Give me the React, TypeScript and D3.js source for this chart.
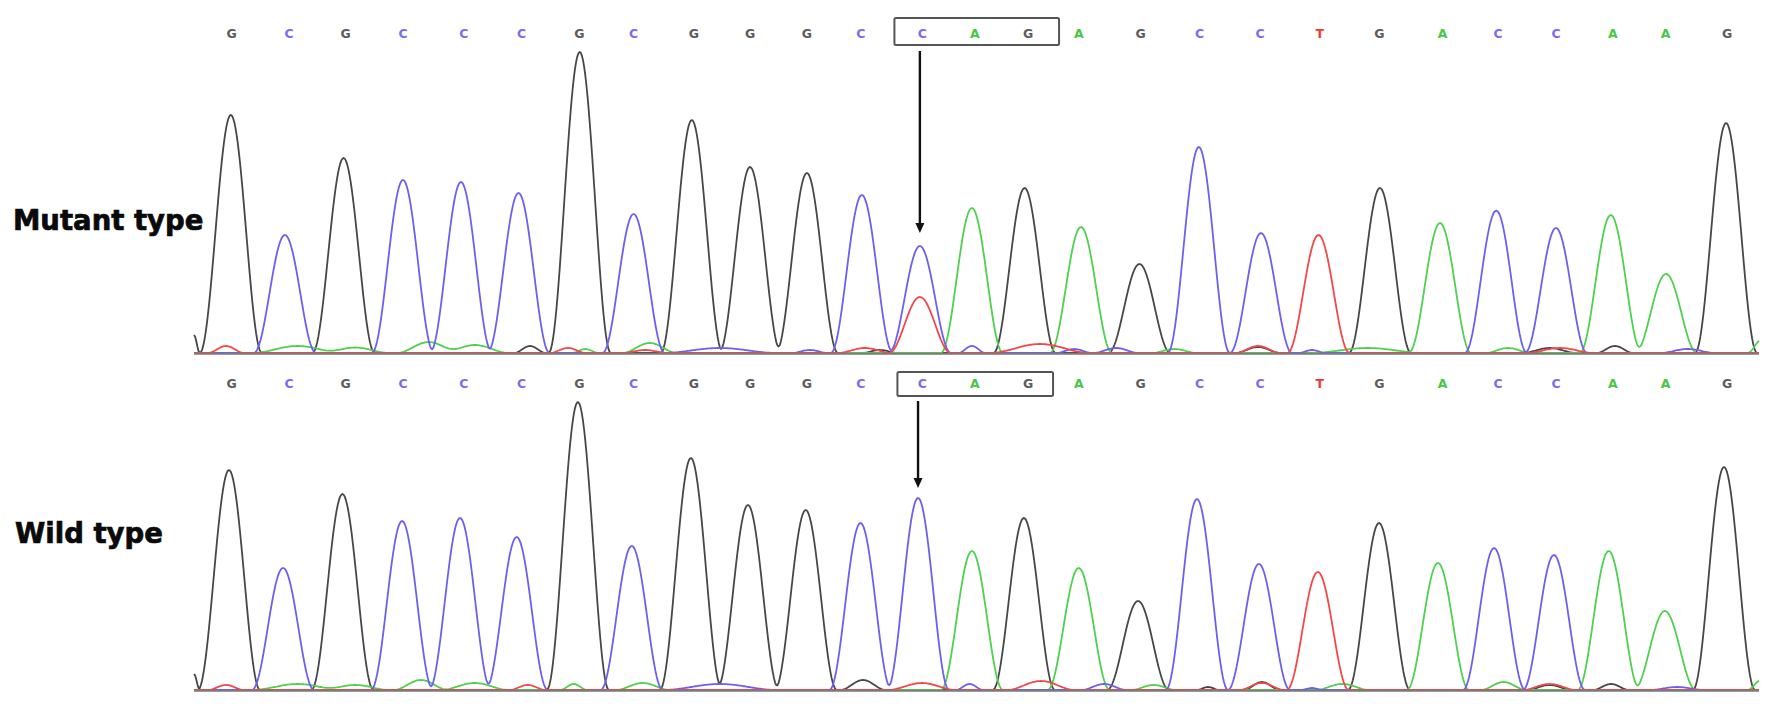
import React from "react";
import * as d3 from "d3";

// ---------- data ----------
const BASES = ["G","C","G","C","C","C","G","C","G","G","G","C","C","A","G","A","G","C","C","T","G","A","C","C","A","A","G"];

// base-call positions (scan units)
const CALL_SCANS = [16.3,41.3,65.9,90.8,117.3,142.3,167.5,191.0,217.2,241.6,266.3,289.8,316.5,339.3,362.4,384.5,411.3,436.9,463.2,489.2,515.1,542.5,566.6,591.8,616.5,639.4,666.1];

// mutant trace: peak centres (scan) and heights (RFU)
const MUTANT_PEAK_SCANS = [16.0,39.5,65.0,90.8,116.0,141.0,167.6,191.0,216.3,241.6,266.3,290.2,315.4,338.0,360.9,385.4,410.8,436.6,463.6,488.6,515.3,541.4,565.7,591.8,615.6,639.6,665.7];
const MUTANT_HEIGHTS = [2380,1180,1950,1730,1710,1600,3010,1390,2330,1860,1800,1580,1070,1450,1650,1260,890,2060,1200,1180,1650,1300,1410,1250,1380,790,2300];
// heterozygous secondary peak: [index, base, height]
const MUTANT_SECONDARY: [number, string, number][] = [[12, "T", 560]];

// wild-type trace
const WILD_PEAK_SCANS = [15.2,38.7,64.5,90.4,115.6,140.2,166.8,190.2,215.9,240.7,265.8,289.6,314.6,338.0,360.6,384.4,410.2,435.8,462.7,488.3,514.9,540.5,564.9,590.9,614.7,639.1,664.8];
const WILD_HEIGHTS = [2200,1220,1960,1690,1720,1530,2880,1440,2320,1850,1800,1670,1920,1390,1720,1220,890,1910,1260,1180,1670,1270,1420,1350,1390,790,2230];
const WILD_SECONDARY: [number, string, number][] = [];

// background signal bumps: [base, scan, height, half-width]
const MUTANT_NOISE: [string, number, number, number][] = [
  ["G",0,180,2.5],["T",13.9,70,8],["A",45,70,20],["A",70,55,15],["A",102,110,14],["A",122,80,15],
  ["G",146,70,7],["T",162.5,50,8],["A",170,40,6],["A",198,100,12],["T",196,30,10],["C",228.5,50,25],
  ["C",267.6,30,8],["T",291.5,50,12],["G",298,30,8],["C",338,70,6],["T",367.6,90,22],["C",382.4,40,8],
  ["C",400.6,50,10],["A",426,40,10],["T",462.3,70,10],["G",462.3,60,10],["C",485.8,30,6],["A",510,50,25],
  ["A",571,50,10],["C",570,30,8],["T",593.5,50,15],["G",589,50,12],["G",617.4,70,8],["C",649,40,12],["A",681,130,6]
];
const WILD_NOISE: [string, number, number, number][] = [
  ["G",0,160,2.5],["T",13.9,50,8],["A",45,60,20],["A",70,50,15],["A",98.6,100,12],["A",122,70,15],
  ["T",145,50,8],["A",165,60,6],["A",195,70,12],["C",228.5,60,25],["G",290.7,100,10],["T",316.3,70,15],
  ["C",337,60,6],["T",368,90,15],["C",395.4,60,10],["A",417,50,10],["G",440.6,30,5],["T",464,70,10],
  ["G",464,80,8],["C",485.8,20,5],["A",499,60,12],["A",569,80,10],["T",589,60,12],["G",589,50,10],
  ["G",615.7,60,8],["C",644.4,30,12],["A",681,100,6]
];

const SAMPLE_LABELS = ["Mutant type", "Wild type"];
const BOXED_RANGE = [12, 14];
const ARROW_INDEX = 12;

// ---------- styling ----------
const TRACE_COLORS: Record<string, string> = { G: "#474747", C: "#6c60f0", A: "#4fd04f", T: "#f24848" };
const LETTER_COLORS: Record<string, string> = { G: "#5c5c5c", C: "#7a6cf0", A: "#46c846", T: "#ec3a30" };
const DRAW_ORDER = ["G", "A", "C", "T"];
const PEAK_HALF_WIDTH = 13.5;

const W = 1772, H = 707;
const x = d3.scaleLinear().domain([0, 680]).range([194, 1759]);

const panels = [
  {
    label: SAMPLE_LABELS[0], labelX: 13, labelY: 230,
    peaks: MUTANT_PEAK_SCANS, heights: MUTANT_HEIGHTS, secondary: MUTANT_SECONDARY, noise: MUTANT_NOISE,
    y: d3.scaleLinear().domain([0, 3100]).range([353, 43]),
    letterY: 38, box: { dl: -28, dr: 31, top: 18, bottom: 45 }, arrow: { top: 51, gap: 13 },
  },
  {
    label: SAMPLE_LABELS[1], labelX: 15, labelY: 543,
    peaks: WILD_PEAK_SCANS, heights: WILD_HEIGHTS, secondary: WILD_SECONDARY, noise: WILD_NOISE,
    y: d3.scaleLinear().domain([0, 3100]).range([690, 380]),
    letterY: 388, box: { dl: -25, dr: 25, top: 372, bottom: 396 }, arrow: { top: 401, gap: 10 },
  },
];

function bump(s: number, c: number, h: number, w: number) {
  const d = Math.abs(s - c);
  if (d >= w) return 0;
  const v = Math.cos((Math.PI / 2) * (d / w));
  return h * v * v;
}

function traces(p: typeof panels[number]) {
  const samples = d3.range(0, 680.01, 0.5);
  const out: Record<string, [number, number][]> = {};
  for (const b of DRAW_ORDER) {
    out[b] = samples.map((s) => {
      let v = 0;
      p.peaks.forEach((c, i) => {
        if (BASES[i] === b) v += bump(s, c, p.heights[i], PEAK_HALF_WIDTH);
      });
      p.secondary.forEach(([i, base, h]) => {
        if (base === b) v += bump(s, p.peaks[i], h, PEAK_HALF_WIDTH);
      });
      p.noise.forEach(([base, c, h, w]) => {
        if (base === b) v += bump(s, c, h, w);
      });
      return [s, v];
    });
  }
  return out;
}

function Panel({ p }: { p: typeof panels[number] }) {
  const tr = traces(p);
  const line = d3.line<[number, number]>().x((d) => x(d[0])).y((d) => p.y(d[1]));
  const base0 = p.y(0);
  const bx0 = x(CALL_SCANS[BOXED_RANGE[0]]) + p.box.dl;
  const bx1 = x(CALL_SCANS[BOXED_RANGE[1]]) + p.box.dr;
  const ax = x(p.peaks[ARROW_INDEX]);
  const aTip = p.y(p.heights[ARROW_INDEX]) - p.arrow.gap;
  return (
    <g>
      <text x={p.labelX} y={p.labelY} fontFamily="DejaVu Sans" fontWeight="bold" fontSize={27.5} fill="#0a0a0a"
        stroke="#0a0a0a" strokeWidth={0.7}>
        {p.label}
      </text>
      {BASES.map((b, i) => (
        <text key={i} x={x(CALL_SCANS[i])} y={p.letterY} textAnchor="middle" fontFamily="DejaVu Sans"
          fontWeight="bold" fontSize={12.5} fill={LETTER_COLORS[b]}>
          {b}
        </text>
      ))}
      <rect x={bx0} y={p.box.top} width={bx1 - bx0} height={p.box.bottom - p.box.top} rx={1.5}
        fill="none" stroke="#555" strokeWidth={2} />
      <line x1={ax} x2={ax} y1={p.arrow.top} y2={aTip - 8} stroke="#111" strokeWidth={2.4} />
      <path d={`M${ax - 4.5},${aTip - 10} L${ax + 4.5},${aTip - 10} L${ax},${aTip} Z`} fill="#111" />
      {DRAW_ORDER.map((b) => (
        <path key={b} d={line(tr[b]) ?? ""} fill="none" stroke={TRACE_COLORS[b]} strokeWidth={1.8}
          strokeLinejoin="round" />
      ))}
      <line x1={x(0)} x2={x(680)} y1={base0 + 0.8} y2={base0 + 0.8} stroke="#7a7a7a" strokeWidth={2} />
    </g>
  );
}

export default function App() {
  return (
    <svg width={W} height={H} viewBox={`0 0 ${W} ${H}`}
      style={{ position: "absolute", left: 0, top: 0, display: "block", background: "#fff" }}>
      <rect width={W} height={H} fill="#fff" />
      {panels.map((p, i) => (
        <Panel key={i} p={p} />
      ))}
    </svg>
  );
}
